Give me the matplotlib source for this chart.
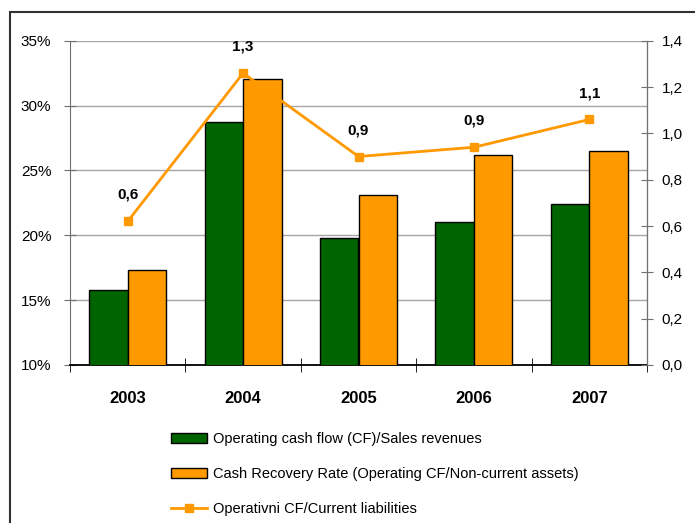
import matplotlib
matplotlib.use("Agg")
import matplotlib.pyplot as plt
import numpy as np
from matplotlib.lines import Line2D
from matplotlib.patches import Patch, Rectangle
from matplotlib.ticker import FuncFormatter, FixedLocator

plt.rcParams["font.family"] = ["Liberation Sans", "DejaVu Sans"]

years = ["2003", "2004", "2005", "2006", "2007"]
cf_sales = [15.8, 28.7, 19.8, 21.05, 22.4]          # %
cash_recovery = [17.3, 32.05, 23.1, 26.2, 26.5]     # %
cf_current_liab = [0.62, 1.26, 0.90, 0.94, 1.06]    # ratio

series_names = [
    "Operating cash flow (CF)/Sales revenues",
    "Cash Recovery Rate (Operating CF/Non-current assets)",
    "Operativni CF/Current liabilities",
]

GREEN = "#006400"
ORANGE = "#FF9900"
AXIS_GRAY = "#707070"


def comma(v, digits=1):
    return f"{v:.{digits}f}".replace(".", ",")


fig = plt.figure(figsize=(6.95, 5.23), dpi=100)
ax = fig.add_axes([70 / 695, 1 - 365 / 523, 577 / 695, (365 - 40.7) / 523])
ax2 = ax.twinx()

x = np.arange(len(years))
w = 1 / 3
ax.bar(x - w / 2, cf_sales, w, color=GREEN, edgecolor="black", linewidth=1, zorder=3)
ax.bar(x + w / 2, cash_recovery, w, color=ORANGE, edgecolor="black", linewidth=1, zorder=3)

ax.set_xlim(-0.5, len(years) - 0.5)
ax.set_ylim(10, 35)
ax.set_yticks(np.arange(10, 36, 5))
ax.yaxis.set_major_formatter(FuncFormatter(lambda v, _: f"{v:.0f}%"))
ax.yaxis.grid(True, color="#A6A6A6", linewidth=1, zorder=0)
ax.set_axisbelow(True)

ax.set_xticks(x)
ax.set_xticklabels(years, fontsize=12, fontweight="bold")
ax.xaxis.set_minor_locator(FixedLocator(np.arange(-0.5, len(years), 1)))
ax.tick_params(axis="x", which="major", length=0, pad=19)
ax.tick_params(axis="x", which="minor", direction="inout", length=10, color="black")
ax.tick_params(axis="y", direction="inout", length=9, pad=9, labelsize=11,
               color=AXIS_GRAY)

ax.spines["top"].set_visible(False)
ax2.spines["top"].set_visible(False)
ax.spines["left"].set_color(AXIS_GRAY)
ax.spines["bottom"].set_color("black")
ax.spines["bottom"].set_linewidth(1.3)
ax2.spines["right"].set_color(AXIS_GRAY)
ax2.spines["left"].set_visible(False)
ax2.spines["bottom"].set_visible(False)

ax2.plot(x, cf_current_liab, color=ORANGE, linewidth=2, marker="s",
         markersize=6, zorder=4)
ax2.set_ylim(0, 1.4)
ax2.set_yticks(np.arange(0, 1.41, 0.2))
ax2.yaxis.set_major_formatter(FuncFormatter(lambda v, _: comma(v)))
ax2.tick_params(axis="y", direction="inout", length=9, pad=6, labelsize=11,
                color=AXIS_GRAY)

for xi, v in zip(x, cf_current_liab):
    ax2.annotate(comma(v), (xi, v), xytext=(0, 19), textcoords="offset points",
                 ha="center", va="center", fontsize=11, fontweight="bold")

handles = [
    Patch(facecolor=GREEN, edgecolor="black", linewidth=1),
    Patch(facecolor=ORANGE, edgecolor="black", linewidth=1),
    Line2D([], [], color=ORANGE, linewidth=2, marker="s", markersize=6),
]
fig.legend(handles, series_names, loc="upper left",
           bbox_to_anchor=(171 / 695, 1 - 432 / 523), frameon=False,
           fontsize=10.5, handlelength=2.5, handleheight=0.7,
           handletextpad=0.4, labelspacing=1.45, borderpad=0, borderaxespad=0)

# outer chart-area frame, running off the right and bottom edges
fig.patches.append(Rectangle((10 / 695, -0.1), 1.2, 1 - 12 / 523 + 0.1,
                             transform=fig.transFigure, fill=False,
                             edgecolor="#303030", linewidth=1.5))

fig.savefig("out.png", dpi=100)
